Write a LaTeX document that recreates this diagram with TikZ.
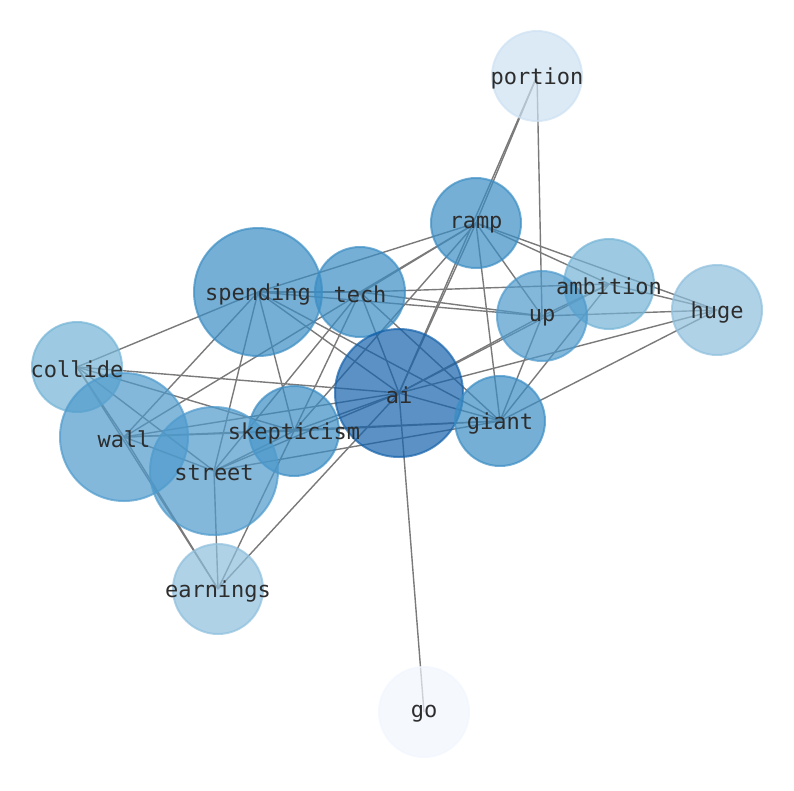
\documentclass[tikz,border=0pt]{standalone}
\usepackage{fontspec}
\setmonofont{DejaVu Sans Mono}
\pgfdeclarelayer{bg}
\pgfsetlayers{bg,main}
\definecolor{cAI}{RGB}{21,98,171}
\definecolor{cA}{RGB}{59,141,196}
\definecolor{cB}{RGB}{78,154,204}
\definecolor{cC}{RGB}{116,180,214}
\definecolor{cD}{RGB}{142,191,221}
\definecolor{cE}{RGB}{205,225,242}
\definecolor{cF}{RGB}{241,246,254}
\definecolor{edgegray}{RGB}{122,122,122}
\definecolor{txt}{RGB}{45,45,45}
\tikzset{
  bubble/.style={circle, inner sep=0pt, fill=#1, draw=#1, fill opacity=0.7, draw opacity=0.7, line width=2pt},
  small/.style={minimum size=90pt},
  big/.style={minimum size=128pt},
  lbl/.style={font=\ttfamily\fontsize{22}{26}\selectfont, text=txt, inner sep=0pt, yshift=-2pt},
  edge/.style={draw=edgegray, line width=1.4pt}
}
\begin{document}
\begin{tikzpicture}[x=1pt,y=-1pt]
\useasboundingbox (0,0) rectangle (794,790);
\node[bubble=cE, small] (portion) at (537,76) {};
\node[bubble=cA, small] (ramp) at (476,223) {};
\node[bubble=cA, big] (spending) at (258,292) {};
\node[bubble=cA, small] (tech) at (360,292) {};
\node[bubble=cC, small] (ambition) at (609,284) {};
\node[bubble=cB, small] (up) at (542,316) {};
\node[bubble=cD, small] (huge) at (717,310) {};
\node[bubble=cC, small] (collide) at (77,367) {};
\node[bubble=cAI, big] (ai) at (399,393) {};
\node[bubble=cA, small] (giant) at (500,421) {};
\node[bubble=cB, big] (wall) at (124,437) {};
\node[bubble=cA, small] (skepticism) at (294,431) {};
\node[bubble=cB, big] (street) at (214,471) {};
\node[bubble=cD, small] (earnings) at (218,589) {};
\node[bubble=cF, small] (go) at (424,712) {};
\foreach \n in {portion, ramp, spending, tech, ambition, up, huge, collide, ai, giant, wall, skepticism, street, earnings, go}
  \node[lbl] (\n-label) at (\n.center) {\n};
\begin{pgfonlayer}{bg}
\foreach \a/\b in {go/ai, portion/ai, portion/ramp, portion/up,
  ramp/ai, ramp/spending, ramp/tech, ramp/giant, ramp/up, ramp/ambition, ramp/huge, ramp/wall, ramp/skepticism,
  spending/collide, spending/wall, spending/street, spending/skepticism, spending/ai, spending/giant, spending/tech, spending/up,
  tech/ai, tech/giant, tech/up, tech/ambition, tech/skepticism, tech/street,
  giant/ai, giant/up, giant/ambition, giant/huge, giant/skepticism, giant/wall, giant/street,
  up/ai, up/ambition, up/huge, ambition/ai, ambition/huge, huge/ai,
  collide/ai, collide/wall, collide/street, collide/skepticism, collide/earnings,
  wall/earnings, wall/street, wall/skepticism, wall/ai,
  street/skepticism, street/ai, street/earnings,
  skepticism/ai, skepticism/earnings, earnings/ai}
  \draw[edge] (\a.center) -- (\b.center);
\end{pgfonlayer}
\end{tikzpicture}
\end{document}
